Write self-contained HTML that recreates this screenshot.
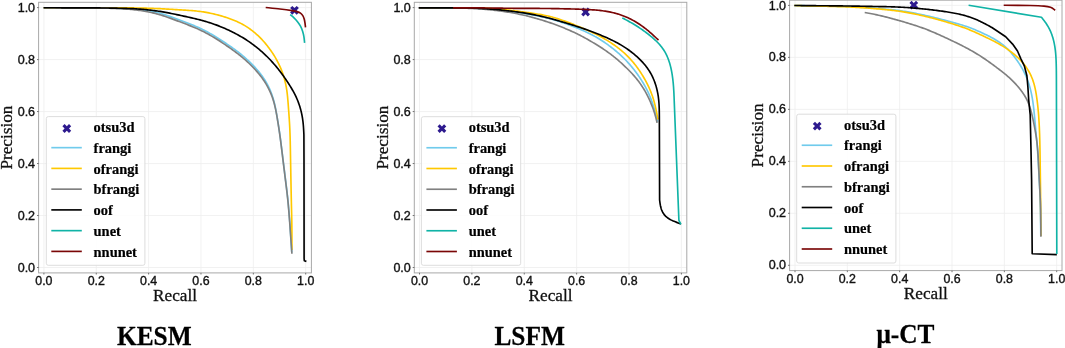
<!DOCTYPE html>
<html><head><meta charset="utf-8"><title>PR curves</title>
<style>html,body{margin:0;padding:0;background:#fff;overflow:hidden;} svg{display:block;will-change:transform;}
</style></head>
<body>
<svg width="1065" height="348" viewBox="0 0 1065 348">
<rect x="0" y="0" width="1065" height="348" fill="#fff"/>
<path d="M43.90,2.30V272.90M38.60,267.50H311.40M96.26,2.30V272.90M38.60,215.52H311.40M148.62,2.30V272.90M38.60,163.54H311.40M200.98,2.30V272.90M38.60,111.56H311.40M253.34,2.30V272.90M38.60,59.58H311.40M305.70,2.30V272.90M38.60,7.60H311.40" stroke="#eeeeee" stroke-width="0.8" fill="none"/>
<path d="M292.30,5.90 L294.50,8.10 L296.70,5.90 L298.90,8.10 L296.70,10.30 L298.90,12.50 L296.70,14.70 L294.50,12.50 L292.30,14.70 L290.10,12.50 L292.30,10.30 L290.10,8.10 Z" fill="#2d1a8e"/>
<g fill="none" stroke-width="1.65" stroke-linejoin="round" stroke-linecap="butt">
<path d="M43.60,7.75 L45.00,7.75 L46.41,7.76 L47.81,7.76 L49.22,7.77 L50.62,7.77 L52.03,7.77 L53.43,7.78 L54.83,7.78 L56.24,7.78 L57.64,7.79 L59.05,7.79 L60.45,7.80 L61.86,7.80 L63.26,7.80 L64.66,7.81 L66.07,7.81 L67.47,7.81 L68.88,7.82 L70.28,7.82 L71.69,7.82 L73.09,7.83 L74.49,7.83 L75.90,7.83 L77.30,7.83 L78.71,7.84 L80.11,7.84 L81.52,7.84 L82.92,7.85 L84.33,7.85 L85.73,7.85 L87.13,7.86 L88.54,7.86 L89.94,7.87 L91.35,7.87 L92.75,7.88 L94.16,7.89 L95.56,7.90 L96.96,7.91 L98.37,7.92 L99.77,7.93 L101.18,7.95 L102.58,7.97 L103.98,7.99 L105.39,8.01 L106.79,8.04 L108.20,8.07 L109.60,8.09 L111.01,8.12 L112.41,8.16 L113.81,8.19 L115.22,8.22 L116.62,8.26 L118.03,8.30 L119.43,8.34 L120.83,8.38 L122.24,8.43 L123.64,8.47 L125.05,8.53 L126.45,8.58 L127.85,8.64 L129.25,8.71 L130.66,8.79 L132.06,8.88 L133.46,8.97 L134.86,9.08 L136.26,9.20 L137.65,9.33 L139.05,9.47 L140.45,9.62 L141.84,9.79 L143.23,9.97 L144.62,10.16 L146.01,10.36 L147.40,10.57 L148.78,10.80 L150.16,11.04 L151.54,11.29 L152.92,11.57 L154.29,11.85 L155.65,12.16 L157.02,12.48 L158.37,12.82 L159.73,13.18 L161.08,13.56 L162.42,13.96 L163.76,14.37 L165.09,14.80 L166.42,15.24 L167.75,15.69 L169.08,16.15 L170.40,16.62 L171.72,17.10 L173.04,17.58 L174.36,18.06 L175.68,18.55 L176.99,19.04 L178.31,19.53 L179.63,20.03 L180.94,20.52 L182.26,21.02 L183.57,21.51 L184.89,22.01 L186.20,22.52 L187.51,23.02 L188.82,23.53 L190.13,24.04 L191.43,24.56 L192.74,25.08 L194.03,25.62 L195.33,26.16 L196.62,26.71 L197.90,27.28 L199.18,27.85 L200.46,28.44 L201.72,29.04 L202.98,29.65 L204.24,30.28 L205.49,30.91 L206.73,31.57 L207.96,32.23 L209.19,32.91 L210.41,33.60 L211.62,34.30 L212.83,35.01 L214.04,35.74 L215.24,36.47 L216.43,37.20 L217.62,37.95 L218.81,38.70 L219.99,39.45 L221.17,40.22 L222.35,40.98 L223.53,41.76 L224.70,42.53 L225.87,43.31 L227.03,44.10 L228.19,44.89 L229.35,45.68 L230.51,46.48 L231.66,47.29 L232.80,48.10 L233.94,48.92 L235.08,49.74 L236.21,50.58 L237.33,51.42 L238.45,52.27 L239.55,53.14 L240.65,54.01 L241.74,54.89 L242.82,55.79 L243.89,56.70 L244.95,57.62 L246.00,58.55 L247.04,59.49 L248.07,60.44 L249.10,61.40 L250.11,62.38 L251.11,63.36 L252.11,64.35 L253.09,65.36 L254.06,66.38 L255.02,67.40 L255.96,68.44 L256.89,69.49 L257.81,70.56 L258.71,71.63 L259.60,72.72 L260.47,73.82 L261.32,74.94 L262.15,76.07 L262.96,77.21 L263.75,78.37 L264.52,79.54 L265.27,80.72 L265.99,81.92 L266.68,83.14 L267.36,84.36 L268.01,85.61 L268.63,86.86 L269.23,88.12 L269.81,89.40 L270.36,90.69 L270.89,91.98 L271.39,93.29 L271.87,94.60 L272.33,95.93 L272.76,97.26 L273.17,98.60 L273.56,99.95 L273.93,101.30 L274.28,102.66 L274.61,104.02 L274.92,105.39 L275.22,106.76 L275.51,108.14 L275.78,109.52 L276.04,110.90 L276.30,112.28 L276.55,113.66 L276.79,115.05 L277.03,116.43 L277.26,117.82 L277.49,119.21 L277.72,120.60 L277.94,121.98 L278.17,123.37 L278.39,124.76 L278.60,126.15 L278.82,127.54 L279.03,128.92 L279.24,130.31 L279.44,131.70 L279.65,133.09 L279.85,134.48 L280.04,135.87 L280.23,137.26 L280.42,138.65 L280.61,140.05 L280.79,141.44 L280.97,142.83 L281.14,144.22 L281.32,145.62 L281.49,147.01 L281.67,148.40 L281.84,149.80 L282.01,151.19 L282.18,152.59 L282.35,153.98 L282.52,155.37 L282.69,156.77 L282.86,158.16 L283.03,159.56 L283.20,160.95 L283.37,162.34 L283.54,163.74 L283.71,165.13 L283.88,166.53 L284.05,167.92 L284.23,169.31 L284.40,170.71 L284.57,172.10 L284.74,173.49 L284.92,174.89 L285.09,176.28 L285.26,177.68 L285.44,179.07 L285.61,180.46 L285.78,181.86 L285.96,183.25 L286.13,184.64 L286.30,186.04 L286.47,187.43 L286.64,188.83 L286.81,190.22 L286.97,191.61 L287.14,193.01 L287.30,194.40 L287.45,195.80 L287.61,197.19 L287.76,198.59 L287.90,199.99 L288.04,201.38 L288.18,202.78 L288.31,204.18 L288.44,205.58 L288.56,206.98 L288.68,208.37 L288.80,209.77 L288.92,211.17 L289.03,212.57 L289.14,213.97 L289.25,215.37 L289.36,216.77 L289.47,218.17 L289.58,219.57 L289.68,220.97 L289.79,222.37 L289.89,223.78 L289.99,225.18 L290.09,226.58 L290.19,227.98 L290.28,229.38 L290.38,230.78 L290.47,232.18 L290.57,233.58 L290.66,234.98 L290.75,236.38 L290.84,237.79 L290.94,239.19 L291.03,240.59 L291.12,241.99 L291.21,243.39 L291.30,244.79 L291.39,246.19 L291.48,247.60 L291.57,249.00 L291.66,250.40 L291.75,251.80 L291.80,252.50" stroke="#70cbec"/>
<path d="M43.60,7.75 L45.00,7.75 L46.41,7.75 L47.81,7.75 L49.21,7.75 L50.62,7.76 L52.02,7.76 L53.42,7.76 L54.82,7.76 L56.23,7.76 L57.63,7.76 L59.03,7.76 L60.44,7.76 L61.84,7.77 L63.24,7.77 L64.65,7.77 L66.05,7.77 L67.45,7.77 L68.86,7.77 L70.26,7.77 L71.66,7.77 L73.07,7.78 L74.47,7.78 L75.87,7.78 L77.27,7.78 L78.68,7.78 L80.08,7.78 L81.48,7.78 L82.89,7.78 L84.29,7.79 L85.69,7.79 L87.10,7.79 L88.50,7.79 L89.90,7.79 L91.31,7.79 L92.71,7.79 L94.11,7.80 L95.52,7.80 L96.92,7.80 L98.32,7.80 L99.72,7.80 L101.13,7.81 L102.53,7.81 L103.93,7.81 L105.34,7.81 L106.74,7.82 L108.14,7.82 L109.55,7.82 L110.95,7.82 L112.35,7.83 L113.76,7.83 L115.16,7.83 L116.56,7.84 L117.96,7.84 L119.37,7.84 L120.77,7.85 L122.17,7.85 L123.58,7.86 L124.98,7.86 L126.38,7.87 L127.79,7.88 L129.19,7.89 L130.59,7.90 L132.00,7.91 L133.40,7.93 L134.80,7.95 L136.20,7.97 L137.61,7.99 L139.01,8.02 L140.41,8.05 L141.82,8.08 L143.22,8.11 L144.62,8.15 L146.02,8.18 L147.43,8.22 L148.83,8.26 L150.23,8.31 L151.63,8.35 L153.04,8.40 L154.44,8.45 L155.84,8.50 L157.24,8.56 L158.64,8.62 L160.04,8.69 L161.45,8.75 L162.85,8.82 L164.25,8.90 L165.65,8.98 L167.05,9.06 L168.45,9.14 L169.85,9.22 L171.25,9.30 L172.65,9.39 L174.05,9.47 L175.45,9.56 L176.86,9.64 L178.26,9.73 L179.66,9.82 L181.06,9.90 L182.46,9.99 L183.86,10.08 L185.26,10.17 L186.66,10.26 L188.06,10.35 L189.46,10.45 L190.86,10.55 L192.26,10.67 L193.66,10.78 L195.05,10.91 L196.45,11.05 L197.84,11.20 L199.23,11.36 L200.62,11.54 L202.01,11.73 L203.39,11.94 L204.78,12.16 L206.16,12.40 L207.54,12.65 L208.91,12.91 L210.29,13.19 L211.66,13.48 L213.03,13.78 L214.39,14.10 L215.75,14.43 L217.11,14.78 L218.47,15.14 L219.82,15.52 L221.17,15.91 L222.51,16.31 L223.85,16.73 L225.19,17.15 L226.52,17.59 L227.86,18.04 L229.18,18.50 L230.50,18.98 L231.82,19.46 L233.13,19.97 L234.43,20.48 L235.72,21.02 L237.01,21.57 L238.28,22.15 L239.54,22.75 L240.79,23.37 L242.03,24.02 L243.25,24.69 L244.46,25.39 L245.65,26.11 L246.84,26.85 L248.00,27.62 L249.15,28.41 L250.29,29.23 L251.41,30.06 L252.52,30.92 L253.61,31.79 L254.69,32.69 L255.75,33.60 L256.80,34.53 L257.83,35.48 L258.85,36.44 L259.85,37.42 L260.84,38.42 L261.80,39.43 L262.76,40.46 L263.69,41.50 L264.61,42.56 L265.52,43.63 L266.40,44.72 L267.28,45.81 L268.14,46.92 L268.99,48.04 L269.82,49.17 L270.64,50.31 L271.45,51.46 L272.24,52.62 L273.01,53.79 L273.77,54.97 L274.52,56.16 L275.24,57.36 L275.95,58.57 L276.63,59.79 L277.30,61.03 L277.94,62.27 L278.57,63.52 L279.18,64.79 L279.76,66.06 L280.33,67.34 L280.88,68.63 L281.40,69.93 L281.91,71.24 L282.39,72.55 L282.86,73.88 L283.30,75.21 L283.72,76.54 L284.12,77.88 L284.50,79.23 L284.86,80.59 L285.19,81.95 L285.51,83.31 L285.80,84.68 L286.08,86.05 L286.33,87.43 L286.56,88.81 L286.77,90.19 L286.97,91.58 L287.14,92.97 L287.31,94.36 L287.46,95.76 L287.60,97.16 L287.73,98.55 L287.85,99.95 L287.97,101.35 L288.08,102.75 L288.19,104.15 L288.29,105.55 L288.40,106.95 L288.50,108.35 L288.60,109.75 L288.70,111.15 L288.81,112.55 L288.91,113.95 L289.01,115.35 L289.10,116.75 L289.20,118.15 L289.29,119.55 L289.38,120.95 L289.47,122.35 L289.55,123.75 L289.63,125.15 L289.70,126.55 L289.77,127.96 L289.84,129.36 L289.90,130.76 L289.95,132.16 L290.01,133.56 L290.05,134.96 L290.10,136.37 L290.14,137.77 L290.17,139.17 L290.21,140.57 L290.24,141.98 L290.27,143.38 L290.30,144.78 L290.33,146.19 L290.35,147.59 L290.38,148.99 L290.40,150.39 L290.43,151.80 L290.45,153.20 L290.47,154.60 L290.50,156.01 L290.52,157.41 L290.55,158.81 L290.57,160.21 L290.60,161.62 L290.62,163.02 L290.65,164.42 L290.67,165.83 L290.70,167.23 L290.72,168.63 L290.75,170.03 L290.77,171.44 L290.80,172.84 L290.82,174.24 L290.85,175.65 L290.87,177.05 L290.90,178.45 L290.92,179.86 L290.95,181.26 L290.98,182.66 L291.00,184.06 L291.03,185.47 L291.05,186.87 L291.08,188.27 L291.11,189.68 L291.13,191.08 L291.16,192.48 L291.19,193.88 L291.22,195.29 L291.25,196.69 L291.28,198.09 L291.31,199.49 L291.34,200.90 L291.37,202.30 L291.40,203.70 L291.43,205.11 L291.47,206.51 L291.50,207.91 L291.53,209.31 L291.57,210.72 L291.60,212.12 L291.63,213.52 L291.66,214.93 L291.69,216.33 L291.72,217.73 L291.75,219.13 L291.78,220.54 L291.80,221.94 L291.82,223.34 L291.84,224.74 L291.86,226.15 L291.87,227.55 L291.88,228.95 L291.89,230.36 L291.90,231.76 L291.90,233.16 L291.91,234.57 L291.91,235.97 L291.91,237.37 L291.91,238.77 L291.91,240.18 L291.91,241.58 L291.91,242.98 L291.91,244.39 L291.91,245.79 L291.90,247.19 L291.90,248.60 L291.90,250.00" stroke="#ffc800"/>
<path d="M43.60,7.75 L45.00,7.76 L46.41,7.76 L47.81,7.77 L49.21,7.78 L50.62,7.78 L52.02,7.79 L53.42,7.79 L54.83,7.80 L56.23,7.81 L57.63,7.81 L59.03,7.82 L60.44,7.83 L61.84,7.83 L63.24,7.84 L64.65,7.84 L66.05,7.85 L67.45,7.85 L68.86,7.86 L70.26,7.87 L71.66,7.87 L73.07,7.88 L74.47,7.88 L75.87,7.89 L77.28,7.89 L78.68,7.90 L80.08,7.90 L81.49,7.91 L82.89,7.91 L84.29,7.92 L85.69,7.92 L87.10,7.93 L88.50,7.93 L89.90,7.94 L91.31,7.95 L92.71,7.96 L94.11,7.97 L95.52,7.99 L96.92,8.00 L98.32,8.02 L99.73,8.05 L101.13,8.07 L102.53,8.10 L103.93,8.14 L105.34,8.17 L106.74,8.21 L108.14,8.26 L109.54,8.30 L110.95,8.35 L112.35,8.41 L113.75,8.46 L115.15,8.52 L116.56,8.58 L117.96,8.64 L119.36,8.71 L120.76,8.78 L122.16,8.85 L123.56,8.93 L124.97,9.01 L126.37,9.10 L127.76,9.20 L129.16,9.30 L130.56,9.41 L131.96,9.54 L133.35,9.67 L134.75,9.82 L136.14,9.98 L137.53,10.15 L138.92,10.34 L140.31,10.54 L141.69,10.75 L143.08,10.97 L144.46,11.20 L145.84,11.45 L147.22,11.70 L148.60,11.97 L149.97,12.25 L151.34,12.54 L152.71,12.85 L154.07,13.17 L155.43,13.50 L156.79,13.85 L158.14,14.22 L159.48,14.60 L160.83,15.00 L162.16,15.41 L163.50,15.84 L164.82,16.28 L166.15,16.74 L167.47,17.20 L168.79,17.67 L170.11,18.15 L171.43,18.64 L172.74,19.13 L174.06,19.62 L175.37,20.11 L176.68,20.61 L178.00,21.11 L179.31,21.60 L180.62,22.10 L181.94,22.60 L183.25,23.10 L184.56,23.60 L185.87,24.10 L187.18,24.60 L188.49,25.11 L189.80,25.62 L191.10,26.14 L192.40,26.67 L193.70,27.20 L194.99,27.74 L196.28,28.30 L197.56,28.86 L198.84,29.44 L200.11,30.03 L201.38,30.63 L202.64,31.24 L203.89,31.86 L205.14,32.50 L206.38,33.16 L207.61,33.82 L208.84,34.50 L210.06,35.19 L211.27,35.89 L212.48,36.60 L213.68,37.32 L214.88,38.05 L216.07,38.79 L217.26,39.54 L218.45,40.29 L219.63,41.05 L220.80,41.81 L221.98,42.58 L223.15,43.36 L224.32,44.14 L225.48,44.92 L226.64,45.71 L227.80,46.51 L228.96,47.30 L230.11,48.11 L231.25,48.92 L232.40,49.73 L233.53,50.55 L234.67,51.38 L235.79,52.22 L236.91,53.06 L238.03,53.91 L239.13,54.78 L240.23,55.65 L241.32,56.53 L242.40,57.43 L243.47,58.33 L244.53,59.25 L245.58,60.18 L246.62,61.12 L247.65,62.06 L248.68,63.02 L249.69,63.99 L250.70,64.97 L251.69,65.97 L252.67,66.97 L253.65,67.98 L254.61,69.00 L255.56,70.04 L256.49,71.09 L257.41,72.14 L258.32,73.21 L259.21,74.30 L260.09,75.39 L260.95,76.50 L261.80,77.62 L262.62,78.75 L263.43,79.90 L264.21,81.06 L264.97,82.23 L265.71,83.42 L266.43,84.62 L267.13,85.84 L267.80,87.06 L268.45,88.30 L269.07,89.56 L269.67,90.82 L270.25,92.09 L270.80,93.38 L271.33,94.67 L271.83,95.98 L272.31,97.29 L272.77,98.62 L273.20,99.95 L273.60,101.29 L273.99,102.63 L274.35,103.99 L274.69,105.34 L275.02,106.71 L275.33,108.08 L275.62,109.45 L275.90,110.83 L276.17,112.20 L276.43,113.58 L276.68,114.97 L276.92,116.35 L277.16,117.73 L277.39,119.12 L277.62,120.51 L277.85,121.89 L278.07,123.28 L278.29,124.67 L278.50,126.06 L278.72,127.44 L278.93,128.83 L279.13,130.22 L279.34,131.61 L279.54,133.00 L279.74,134.39 L279.93,135.78 L280.12,137.17 L280.31,138.56 L280.49,139.95 L280.68,141.34 L280.85,142.73 L281.03,144.12 L281.21,145.51 L281.38,146.91 L281.55,148.30 L281.72,149.69 L281.89,151.08 L282.07,152.48 L282.24,153.87 L282.41,155.26 L282.58,156.65 L282.74,158.05 L282.91,159.44 L283.09,160.83 L283.26,162.23 L283.43,163.62 L283.60,165.01 L283.77,166.40 L283.94,167.80 L284.11,169.19 L284.28,170.58 L284.46,171.97 L284.63,173.37 L284.80,174.76 L284.97,176.15 L285.15,177.54 L285.32,178.94 L285.49,180.33 L285.67,181.72 L285.84,183.11 L286.01,184.51 L286.18,185.90 L286.36,187.29 L286.52,188.69 L286.69,190.08 L286.86,191.47 L287.02,192.87 L287.18,194.26 L287.34,195.65 L287.49,197.05 L287.64,198.44 L287.79,199.84 L287.93,201.23 L288.06,202.63 L288.19,204.03 L288.32,205.42 L288.45,206.82 L288.57,208.22 L288.69,209.62 L288.80,211.02 L288.92,212.41 L289.03,213.81 L289.14,215.21 L289.25,216.61 L289.36,218.01 L289.47,219.41 L289.57,220.81 L289.68,222.21 L289.78,223.61 L289.89,225.01 L289.99,226.40 L290.09,227.80 L290.19,229.20 L290.29,230.60 L290.39,232.00 L290.49,233.40 L290.59,234.80 L290.69,236.20 L290.78,237.60 L290.88,239.00 L290.98,240.40 L291.07,241.80 L291.17,243.20 L291.27,244.60 L291.37,246.00 L291.46,247.40 L291.56,248.80 L291.66,250.20 L291.75,251.60 L291.85,253.00 L291.90,253.70" stroke="#808080"/>
<path d="M43.60,7.75 L45.01,7.75 L46.41,7.76 L47.82,7.76 L49.22,7.77 L50.63,7.77 L52.03,7.77 L53.44,7.78 L54.84,7.78 L56.25,7.78 L57.66,7.79 L59.06,7.79 L60.47,7.80 L61.87,7.80 L63.28,7.80 L64.68,7.81 L66.09,7.81 L67.50,7.81 L68.90,7.82 L70.31,7.82 L71.71,7.82 L73.12,7.83 L74.52,7.83 L75.93,7.83 L77.33,7.84 L78.74,7.84 L80.15,7.84 L81.55,7.84 L82.96,7.85 L84.36,7.85 L85.77,7.86 L87.17,7.86 L88.58,7.86 L89.99,7.87 L91.39,7.88 L92.80,7.88 L94.20,7.89 L95.61,7.90 L97.01,7.91 L98.42,7.92 L99.82,7.94 L101.23,7.95 L102.64,7.97 L104.04,7.99 L105.45,8.01 L106.85,8.03 L108.26,8.05 L109.66,8.07 L111.07,8.09 L112.47,8.12 L113.88,8.14 L115.28,8.17 L116.69,8.19 L118.10,8.22 L119.50,8.24 L120.91,8.27 L122.31,8.30 L123.72,8.34 L125.12,8.37 L126.53,8.41 L127.93,8.46 L129.34,8.50 L130.74,8.56 L132.14,8.62 L133.55,8.69 L134.95,8.77 L136.35,8.86 L137.75,8.95 L139.15,9.06 L140.55,9.17 L141.95,9.29 L143.35,9.41 L144.75,9.54 L146.15,9.68 L147.55,9.82 L148.95,9.97 L150.34,10.13 L151.74,10.29 L153.13,10.46 L154.53,10.63 L155.92,10.82 L157.31,11.01 L158.70,11.22 L160.09,11.43 L161.47,11.66 L162.86,11.89 L164.24,12.13 L165.62,12.38 L167.00,12.64 L168.38,12.91 L169.76,13.18 L171.14,13.46 L172.52,13.74 L173.89,14.02 L175.27,14.31 L176.65,14.60 L178.02,14.89 L179.40,15.18 L180.77,15.48 L182.15,15.77 L183.52,16.07 L184.90,16.37 L186.27,16.67 L187.64,16.97 L189.02,17.27 L190.39,17.58 L191.76,17.89 L193.13,18.21 L194.50,18.53 L195.86,18.86 L197.23,19.19 L198.59,19.53 L199.95,19.88 L201.31,20.24 L202.67,20.61 L204.02,20.99 L205.37,21.37 L206.72,21.77 L208.06,22.18 L209.40,22.60 L210.74,23.04 L212.07,23.48 L213.40,23.94 L214.72,24.41 L216.04,24.89 L217.36,25.39 L218.67,25.89 L219.97,26.41 L221.27,26.94 L222.57,27.49 L223.86,28.04 L225.15,28.60 L226.43,29.17 L227.71,29.76 L228.99,30.35 L230.26,30.96 L231.52,31.57 L232.78,32.19 L234.04,32.83 L235.28,33.47 L236.53,34.13 L237.76,34.79 L238.99,35.47 L240.22,36.16 L241.43,36.87 L242.64,37.58 L243.84,38.31 L245.03,39.06 L246.22,39.81 L247.39,40.58 L248.56,41.36 L249.72,42.16 L250.87,42.96 L252.00,43.79 L253.13,44.62 L254.25,45.47 L255.36,46.33 L256.46,47.20 L257.56,48.08 L258.64,48.98 L259.72,49.88 L260.78,50.80 L261.84,51.72 L262.88,52.66 L263.92,53.61 L264.95,54.57 L265.96,55.54 L266.97,56.52 L267.96,57.51 L268.95,58.51 L269.92,59.53 L270.88,60.55 L271.84,61.58 L272.78,62.63 L273.71,63.68 L274.63,64.74 L275.54,65.81 L276.45,66.88 L277.34,67.97 L278.22,69.06 L279.09,70.17 L279.95,71.28 L280.81,72.40 L281.65,73.52 L282.48,74.65 L283.30,75.79 L284.12,76.94 L284.92,78.10 L285.72,79.26 L286.51,80.42 L287.28,81.59 L288.06,82.77 L288.82,83.96 L289.57,85.14 L290.31,86.34 L291.05,87.54 L291.76,88.75 L292.47,89.96 L293.16,91.19 L293.84,92.42 L294.49,93.66 L295.13,94.91 L295.74,96.17 L296.33,97.44 L296.90,98.72 L297.44,100.01 L297.97,101.31 L298.46,102.62 L298.94,103.93 L299.39,105.26 L299.82,106.59 L300.22,107.94 L300.60,109.29 L300.95,110.64 L301.29,112.00 L301.59,113.37 L301.88,114.75 L302.14,116.12 L302.38,117.51 L302.60,118.89 L302.79,120.28 L302.97,121.67 L303.13,123.07 L303.26,124.47 L303.39,125.87 L303.49,127.27 L303.58,128.67 L303.67,130.08 L303.74,131.48 L303.81,132.89 L303.87,134.30 L303.90,135.00 L304.00,160.00 L304.10,258.50 L304.30,260.80 L306.40,261.40" stroke="#000000"/>
<path d="M290.20,14.60 C290.83,15.13 292.78,16.62 294.00,17.80 C295.22,18.98 296.42,20.30 297.50,21.70 C298.58,23.10 299.65,24.62 300.50,26.20 C301.35,27.78 302.03,29.47 302.60,31.20 C303.17,32.93 303.57,34.67 303.90,36.60 C304.23,38.53 304.48,41.77 304.60,42.80" stroke="#10b3a6"/>
<path d="M265.70,7.50 C268.08,7.75 275.62,8.48 280.00,9.00 C284.38,9.52 289.17,10.17 292.00,10.60 C294.83,11.03 295.58,11.18 297.00,11.60 C298.42,12.02 299.53,12.43 300.50,13.10 C301.47,13.77 302.18,14.62 302.80,15.60 C303.42,16.58 303.83,17.77 304.20,19.00 C304.57,20.23 304.78,21.62 305.00,23.00 C305.22,24.38 305.42,26.58 305.50,27.30" stroke="#7a0606"/>
</g>
<rect x="38.60" y="2.30" width="272.80" height="270.60" fill="none" stroke="#a8a8a8" stroke-width="1"/>
<path d="M43.90,272.90v1.6M38.60,267.50h-1.6M96.26,272.90v1.6M38.60,215.52h-1.6M148.62,272.90v1.6M38.60,163.54h-1.6M200.98,272.90v1.6M38.60,111.56h-1.6M253.34,272.90v1.6M38.60,59.58h-1.6M305.70,272.90v1.6M38.60,7.60h-1.6" stroke="#555" stroke-width="0.8" fill="none"/>
<g font-family="'Liberation Sans', sans-serif" font-size="11.9" fill="#111" stroke="#111" stroke-width="0.35">
<text x="43.90" y="285.10" text-anchor="middle" textLength="17.2" lengthAdjust="spacingAndGlyphs">0.0</text>
<text x="17.70" y="271.60" textLength="17.4" lengthAdjust="spacingAndGlyphs">0.0</text>
<text x="96.26" y="285.10" text-anchor="middle" textLength="17.2" lengthAdjust="spacingAndGlyphs">0.2</text>
<text x="17.70" y="219.62" textLength="17.4" lengthAdjust="spacingAndGlyphs">0.2</text>
<text x="148.62" y="285.10" text-anchor="middle" textLength="17.2" lengthAdjust="spacingAndGlyphs">0.4</text>
<text x="17.70" y="167.64" textLength="17.4" lengthAdjust="spacingAndGlyphs">0.4</text>
<text x="200.98" y="285.10" text-anchor="middle" textLength="17.2" lengthAdjust="spacingAndGlyphs">0.6</text>
<text x="17.70" y="115.66" textLength="17.4" lengthAdjust="spacingAndGlyphs">0.6</text>
<text x="253.34" y="285.10" text-anchor="middle" textLength="17.2" lengthAdjust="spacingAndGlyphs">0.8</text>
<text x="17.70" y="63.68" textLength="17.4" lengthAdjust="spacingAndGlyphs">0.8</text>
<text x="305.70" y="285.10" text-anchor="middle" textLength="17.2" lengthAdjust="spacingAndGlyphs">1.0</text>
<text x="17.70" y="11.70" textLength="17.4" lengthAdjust="spacingAndGlyphs">1.0</text>
</g>
<text x="175.00" y="301.40" text-anchor="middle" font-family="'Liberation Serif', serif" font-size="17.2" fill="#111" stroke="#111" stroke-width="0.3">Recall</text>
<text transform="translate(12.00,137.60) rotate(-90)" x="0" y="0" text-anchor="middle" font-family="'Liberation Serif', serif" font-size="17.2" fill="#111" stroke="#111" stroke-width="0.3">Precision</text>
<rect x="46.30" y="116.60" width="98.60" height="148.70" rx="2" ry="2" fill="#fff" fill-opacity="0.85" stroke="#d9d9d9" stroke-width="0.9"/>
<path d="M64.60,124.10 L66.80,126.30 L69.00,124.10 L71.20,126.30 L69.00,128.50 L71.20,130.70 L69.00,132.90 L66.80,130.70 L64.60,132.90 L62.40,130.70 L64.60,128.50 L62.40,126.30 Z" fill="#2d1a8e"/>
<text x="93.60" y="132.10" font-family="'Liberation Serif', serif" font-weight="bold" font-size="14.45" fill="#000" stroke="#000" stroke-width="0.2">otsu3d</text>
<path d="M51.30,147.65H81.80" stroke="#70cbec" stroke-width="1.65"/>
<text x="93.60" y="152.85" font-family="'Liberation Serif', serif" font-weight="bold" font-size="14.45" fill="#000" stroke="#000" stroke-width="0.2">frangi</text>
<path d="M51.30,168.40H81.80" stroke="#ffc800" stroke-width="1.65"/>
<text x="93.60" y="173.60" font-family="'Liberation Serif', serif" font-weight="bold" font-size="14.45" fill="#000" stroke="#000" stroke-width="0.2">ofrangi</text>
<path d="M51.30,189.15H81.80" stroke="#808080" stroke-width="1.65"/>
<text x="93.60" y="194.35" font-family="'Liberation Serif', serif" font-weight="bold" font-size="14.45" fill="#000" stroke="#000" stroke-width="0.2">bfrangi</text>
<path d="M51.30,209.90H81.80" stroke="#000000" stroke-width="1.65"/>
<text x="93.60" y="215.10" font-family="'Liberation Serif', serif" font-weight="bold" font-size="14.45" fill="#000" stroke="#000" stroke-width="0.2">oof</text>
<path d="M51.30,230.65H81.80" stroke="#10b3a6" stroke-width="1.65"/>
<text x="93.60" y="235.85" font-family="'Liberation Serif', serif" font-weight="bold" font-size="14.45" fill="#000" stroke="#000" stroke-width="0.2">unet</text>
<path d="M51.30,251.40H81.80" stroke="#7a0606" stroke-width="1.65"/>
<text x="93.60" y="256.60" font-family="'Liberation Serif', serif" font-weight="bold" font-size="14.45" fill="#000" stroke="#000" stroke-width="0.2">nnunet</text>
<path d="M419.50,2.30V272.90M414.30,267.50H686.80M471.88,2.30V272.90M414.30,215.52H686.80M524.26,2.30V272.90M414.30,163.54H686.80M576.64,2.30V272.90M414.30,111.56H686.80M629.02,2.30V272.90M414.30,59.58H686.80M681.40,2.30V272.90M414.30,7.60H686.80" stroke="#eeeeee" stroke-width="0.8" fill="none"/>
<path d="M583.40,7.60 L585.60,9.80 L587.80,7.60 L590.00,9.80 L587.80,12.00 L590.00,14.20 L587.80,16.40 L585.60,14.20 L583.40,16.40 L581.20,14.20 L583.40,12.00 L581.20,9.80 Z" fill="#2d1a8e"/>
<g fill="none" stroke-width="1.65" stroke-linejoin="round" stroke-linecap="butt">
<path d="M419.30,7.80 L420.71,7.80 L422.11,7.80 L423.52,7.80 L424.92,7.80 L426.33,7.80 L427.73,7.80 L429.14,7.80 L430.54,7.80 L431.95,7.80 L433.35,7.80 L434.76,7.80 L436.16,7.80 L437.57,7.80 L438.97,7.80 L440.38,7.80 L441.78,7.80 L443.19,7.80 L444.59,7.80 L446.00,7.80 L447.40,7.81 L448.81,7.81 L450.21,7.81 L451.62,7.82 L453.02,7.83 L454.43,7.83 L455.84,7.84 L457.24,7.86 L458.65,7.87 L460.05,7.89 L461.46,7.91 L462.86,7.93 L464.27,7.96 L465.67,7.99 L467.07,8.02 L468.48,8.05 L469.88,8.09 L471.29,8.14 L472.69,8.18 L474.10,8.23 L475.50,8.29 L476.90,8.35 L478.31,8.41 L479.71,8.48 L481.11,8.56 L482.52,8.64 L483.92,8.73 L485.32,8.82 L486.72,8.92 L488.12,9.02 L489.52,9.13 L490.92,9.24 L492.32,9.36 L493.72,9.48 L495.12,9.60 L496.52,9.74 L497.92,9.87 L499.32,10.02 L500.72,10.16 L502.11,10.32 L503.51,10.47 L504.90,10.63 L506.30,10.80 L507.69,10.97 L509.09,11.15 L510.48,11.33 L511.88,11.51 L513.27,11.69 L514.66,11.88 L516.05,12.08 L517.44,12.27 L518.83,12.48 L520.22,12.69 L521.61,12.90 L523.00,13.12 L524.38,13.35 L525.77,13.59 L527.15,13.83 L528.53,14.08 L529.92,14.34 L531.30,14.60 L532.67,14.87 L534.05,15.15 L535.43,15.43 L536.81,15.71 L538.18,16.00 L539.55,16.30 L540.93,16.60 L542.30,16.91 L543.67,17.22 L545.03,17.54 L546.40,17.87 L547.76,18.21 L549.12,18.55 L550.48,18.91 L551.83,19.28 L553.19,19.66 L554.53,20.05 L555.88,20.45 L557.22,20.87 L558.56,21.29 L559.90,21.72 L561.23,22.16 L562.57,22.61 L563.89,23.06 L565.22,23.52 L566.55,23.99 L567.87,24.47 L569.19,24.95 L570.51,25.44 L571.82,25.93 L573.14,26.43 L574.45,26.94 L575.75,27.46 L577.06,27.98 L578.36,28.52 L579.65,29.06 L580.94,29.62 L582.23,30.18 L583.51,30.76 L584.78,31.34 L586.06,31.94 L587.32,32.55 L588.58,33.16 L589.84,33.79 L591.09,34.42 L592.34,35.07 L593.58,35.72 L594.81,36.39 L596.04,37.07 L597.26,37.77 L598.46,38.48 L599.66,39.21 L600.85,39.95 L602.03,40.71 L603.20,41.48 L604.36,42.27 L605.51,43.07 L606.66,43.88 L607.79,44.71 L608.92,45.54 L610.04,46.39 L611.16,47.24 L612.27,48.10 L613.37,48.97 L614.47,49.85 L615.55,50.75 L616.63,51.65 L617.70,52.56 L618.76,53.48 L619.81,54.41 L620.84,55.36 L621.87,56.32 L622.88,57.29 L623.88,58.28 L624.87,59.27 L625.85,60.28 L626.81,61.30 L627.77,62.33 L628.71,63.37 L629.64,64.42 L630.56,65.49 L631.46,66.56 L632.36,67.64 L633.24,68.73 L634.12,69.83 L634.98,70.94 L635.82,72.07 L636.66,73.20 L637.48,74.33 L638.29,75.48 L639.09,76.64 L639.87,77.81 L640.65,78.98 L641.40,80.16 L642.15,81.35 L642.88,82.55 L643.60,83.76 L644.30,84.98 L644.98,86.20 L645.65,87.43 L646.31,88.68 L646.95,89.93 L647.57,91.18 L648.17,92.45 L648.76,93.72 L649.33,95.01 L649.88,96.30 L650.41,97.59 L650.93,98.90 L651.43,100.21 L651.91,101.53 L652.38,102.85 L652.83,104.18 L653.27,105.51 L653.70,106.85 L654.11,108.19 L654.51,109.54 L654.89,110.89 L655.26,112.24 L655.62,113.60 L655.97,114.96 L656.31,116.33 L656.64,117.69 L656.96,119.06 L657.28,120.43 L657.60,121.80" stroke="#70cbec"/>
<path d="M419.30,7.80 L420.71,7.80 L422.11,7.80 L423.52,7.80 L424.92,7.80 L426.33,7.80 L427.73,7.80 L429.14,7.80 L430.54,7.80 L431.95,7.80 L433.35,7.80 L434.76,7.80 L436.16,7.80 L437.57,7.80 L438.97,7.80 L440.38,7.79 L441.78,7.79 L443.19,7.79 L444.59,7.79 L446.00,7.79 L447.40,7.79 L448.81,7.79 L450.21,7.79 L451.62,7.79 L453.03,7.80 L454.43,7.80 L455.84,7.80 L457.24,7.81 L458.65,7.82 L460.05,7.82 L461.46,7.83 L462.86,7.84 L464.27,7.86 L465.67,7.87 L467.08,7.89 L468.48,7.91 L469.89,7.93 L471.29,7.95 L472.70,7.97 L474.10,8.00 L475.51,8.03 L476.91,8.06 L478.32,8.10 L479.72,8.14 L481.13,8.19 L482.53,8.24 L483.93,8.29 L485.34,8.34 L486.74,8.41 L488.15,8.47 L489.55,8.54 L490.95,8.62 L492.35,8.70 L493.76,8.78 L495.16,8.87 L496.56,8.97 L497.96,9.08 L499.36,9.19 L500.76,9.31 L502.16,9.44 L503.56,9.57 L504.95,9.71 L506.35,9.85 L507.75,10.00 L509.14,10.16 L510.54,10.32 L511.94,10.48 L513.33,10.65 L514.73,10.82 L516.12,10.99 L517.52,11.16 L518.91,11.34 L520.30,11.52 L521.70,11.71 L523.09,11.89 L524.48,12.08 L525.88,12.28 L527.27,12.48 L528.66,12.68 L530.05,12.88 L531.44,13.09 L532.83,13.30 L534.22,13.52 L535.61,13.74 L536.99,13.97 L538.38,14.20 L539.77,14.43 L541.15,14.68 L542.53,14.93 L543.91,15.19 L545.28,15.47 L546.66,15.76 L548.02,16.06 L549.39,16.38 L550.75,16.71 L552.11,17.07 L553.46,17.43 L554.80,17.82 L556.15,18.22 L557.49,18.64 L558.82,19.07 L560.15,19.51 L561.48,19.97 L562.81,20.43 L564.13,20.90 L565.45,21.38 L566.77,21.87 L568.08,22.37 L569.40,22.87 L570.71,23.37 L572.02,23.88 L573.33,24.39 L574.64,24.91 L575.95,25.43 L577.25,25.95 L578.55,26.48 L579.85,27.02 L581.15,27.56 L582.45,28.10 L583.74,28.65 L585.03,29.21 L586.32,29.77 L587.61,30.33 L588.89,30.90 L590.17,31.48 L591.45,32.07 L592.72,32.66 L593.99,33.26 L595.26,33.87 L596.51,34.49 L597.77,35.13 L599.01,35.77 L600.25,36.43 L601.49,37.10 L602.71,37.79 L603.93,38.48 L605.14,39.19 L606.34,39.92 L607.54,40.65 L608.73,41.40 L609.91,42.16 L611.09,42.93 L612.26,43.71 L613.42,44.50 L614.57,45.30 L615.71,46.12 L616.85,46.95 L617.97,47.80 L619.08,48.65 L620.17,49.53 L621.26,50.42 L622.33,51.33 L623.38,52.25 L624.42,53.19 L625.45,54.14 L626.46,55.11 L627.46,56.10 L628.45,57.10 L629.42,58.11 L630.37,59.14 L631.31,60.18 L632.23,61.24 L633.14,62.31 L634.04,63.39 L634.92,64.49 L635.78,65.59 L636.63,66.71 L637.46,67.84 L638.28,68.98 L639.09,70.14 L639.88,71.30 L640.65,72.47 L641.41,73.65 L642.16,74.84 L642.89,76.04 L643.61,77.25 L644.32,78.46 L645.01,79.69 L645.68,80.92 L646.34,82.16 L646.99,83.41 L647.62,84.67 L648.23,85.93 L648.83,87.20 L649.41,88.48 L649.97,89.76 L650.51,91.06 L651.03,92.36 L651.53,93.67 L652.02,94.98 L652.48,96.30 L652.92,97.63 L653.34,98.97 L653.74,100.31 L654.12,101.66 L654.49,103.01 L654.83,104.37 L655.16,105.73 L655.48,107.10 L655.78,108.47 L656.08,109.85 L656.36,111.22 L656.64,112.60 L656.92,113.98 L657.19,115.36 L657.46,116.74 L657.73,118.12 L658.00,119.50" stroke="#ffc800"/>
<path d="M419.30,7.80 L420.71,7.80 L422.11,7.81 L423.52,7.81 L424.92,7.81 L426.33,7.81 L427.73,7.82 L429.14,7.82 L430.54,7.82 L431.95,7.83 L433.35,7.83 L434.76,7.83 L436.16,7.84 L437.57,7.84 L438.97,7.84 L440.38,7.85 L441.79,7.86 L443.19,7.86 L444.60,7.87 L446.00,7.88 L447.41,7.89 L448.81,7.90 L450.22,7.91 L451.62,7.92 L453.03,7.94 L454.43,7.96 L455.84,7.98 L457.24,8.01 L458.65,8.04 L460.05,8.07 L461.46,8.11 L462.86,8.15 L464.27,8.19 L465.67,8.24 L467.07,8.29 L468.48,8.35 L469.88,8.41 L471.29,8.47 L472.69,8.54 L474.09,8.62 L475.50,8.69 L476.90,8.78 L478.30,8.86 L479.70,8.95 L481.11,9.05 L482.51,9.16 L483.91,9.27 L485.31,9.38 L486.71,9.50 L488.11,9.63 L489.51,9.76 L490.91,9.89 L492.30,10.04 L493.70,10.18 L495.10,10.34 L496.49,10.50 L497.89,10.67 L499.28,10.85 L500.67,11.04 L502.06,11.23 L503.45,11.43 L504.84,11.64 L506.23,11.86 L507.62,12.08 L509.01,12.31 L510.39,12.54 L511.78,12.78 L513.16,13.03 L514.54,13.28 L515.92,13.54 L517.30,13.80 L518.68,14.07 L520.06,14.35 L521.43,14.64 L522.80,14.94 L524.17,15.25 L525.54,15.57 L526.90,15.90 L528.26,16.25 L529.62,16.60 L530.98,16.96 L532.33,17.33 L533.69,17.70 L535.04,18.09 L536.39,18.48 L537.74,18.87 L539.09,19.27 L540.43,19.67 L541.78,20.08 L543.12,20.49 L544.46,20.91 L545.80,21.34 L547.14,21.77 L548.47,22.21 L549.81,22.65 L551.14,23.10 L552.46,23.57 L553.79,24.04 L555.11,24.52 L556.42,25.00 L557.74,25.50 L559.05,26.00 L560.36,26.52 L561.66,27.04 L562.97,27.56 L564.27,28.10 L565.56,28.64 L566.86,29.19 L568.15,29.74 L569.43,30.31 L570.72,30.87 L572.00,31.45 L573.28,32.03 L574.55,32.62 L575.82,33.22 L577.09,33.83 L578.35,34.45 L579.60,35.08 L580.85,35.72 L582.09,36.37 L583.33,37.03 L584.56,37.70 L585.79,38.38 L587.02,39.07 L588.24,39.77 L589.46,40.47 L590.67,41.17 L591.88,41.89 L593.09,42.60 L594.30,43.33 L595.50,44.05 L596.70,44.79 L597.90,45.53 L599.09,46.27 L600.27,47.03 L601.45,47.79 L602.63,48.56 L603.80,49.34 L604.96,50.12 L606.12,50.92 L607.27,51.73 L608.41,52.55 L609.54,53.37 L610.67,54.21 L611.78,55.07 L612.89,55.93 L613.99,56.80 L615.08,57.69 L616.16,58.58 L617.24,59.48 L618.31,60.40 L619.37,61.32 L620.42,62.25 L621.47,63.19 L622.51,64.14 L623.54,65.09 L624.56,66.06 L625.58,67.03 L626.59,68.01 L627.59,68.99 L628.59,69.99 L629.57,70.99 L630.55,72.00 L631.52,73.02 L632.47,74.05 L633.41,75.09 L634.34,76.14 L635.26,77.20 L636.16,78.28 L637.04,79.37 L637.90,80.47 L638.75,81.59 L639.59,82.72 L640.40,83.86 L641.20,85.01 L641.98,86.17 L642.74,87.35 L643.49,88.54 L644.21,89.74 L644.92,90.95 L645.61,92.18 L646.28,93.41 L646.94,94.65 L647.58,95.90 L648.20,97.16 L648.81,98.43 L649.40,99.70 L649.98,100.98 L650.54,102.27 L651.09,103.56 L651.62,104.86 L652.14,106.16 L652.64,107.47 L653.13,108.79 L653.59,110.11 L654.04,111.43 L654.47,112.76 L654.87,114.10 L655.26,115.44 L655.63,116.79 L655.98,118.14 L656.31,119.50 L656.63,120.86 L656.94,122.22 L657.10,122.90" stroke="#808080"/>
<path d="M418.60,7.80 L420.01,7.80 L421.41,7.80 L422.82,7.80 L424.22,7.80 L425.63,7.80 L427.04,7.80 L428.44,7.80 L429.85,7.80 L431.25,7.80 L432.66,7.80 L434.07,7.80 L435.47,7.80 L436.88,7.80 L438.28,7.80 L439.69,7.80 L441.10,7.80 L442.50,7.80 L443.91,7.80 L445.31,7.80 L446.72,7.81 L448.13,7.81 L449.53,7.81 L450.94,7.81 L452.34,7.82 L453.75,7.82 L455.16,7.83 L456.56,7.83 L457.97,7.84 L459.37,7.85 L460.78,7.87 L462.19,7.88 L463.59,7.90 L465.00,7.92 L466.40,7.94 L467.81,7.97 L469.21,8.00 L470.62,8.04 L472.03,8.08 L473.43,8.12 L474.84,8.17 L476.24,8.22 L477.64,8.28 L479.05,8.35 L480.45,8.42 L481.86,8.50 L483.26,8.58 L484.66,8.66 L486.07,8.75 L487.47,8.85 L488.87,8.95 L490.27,9.06 L491.67,9.17 L493.07,9.29 L494.48,9.41 L495.88,9.53 L497.28,9.67 L498.68,9.80 L500.07,9.94 L501.47,10.08 L502.87,10.23 L504.27,10.38 L505.67,10.54 L507.06,10.70 L508.46,10.86 L509.86,11.02 L511.25,11.19 L512.65,11.36 L514.05,11.53 L515.44,11.71 L516.83,11.89 L518.23,12.08 L519.62,12.27 L521.01,12.47 L522.40,12.68 L523.79,12.89 L525.17,13.12 L526.56,13.35 L527.94,13.59 L529.33,13.84 L530.71,14.10 L532.09,14.37 L533.47,14.64 L534.84,14.92 L536.22,15.20 L537.60,15.49 L538.97,15.79 L540.34,16.09 L541.72,16.39 L543.09,16.71 L544.45,17.03 L545.82,17.35 L547.19,17.69 L548.55,18.03 L549.91,18.38 L551.27,18.74 L552.62,19.11 L553.98,19.48 L555.33,19.86 L556.68,20.25 L558.03,20.64 L559.38,21.04 L560.73,21.44 L562.08,21.84 L563.42,22.24 L564.77,22.65 L566.11,23.06 L567.46,23.47 L568.80,23.88 L570.15,24.29 L571.49,24.71 L572.83,25.13 L574.17,25.55 L575.51,25.97 L576.85,26.41 L578.19,26.84 L579.52,27.28 L580.85,27.73 L582.18,28.19 L583.51,28.65 L584.84,29.11 L586.16,29.59 L587.48,30.06 L588.80,30.54 L590.12,31.03 L591.44,31.52 L592.76,32.02 L594.07,32.52 L595.38,33.02 L596.69,33.54 L598.00,34.05 L599.31,34.58 L600.61,35.11 L601.91,35.64 L603.21,36.19 L604.50,36.74 L605.79,37.30 L607.08,37.87 L608.36,38.45 L609.63,39.04 L610.91,39.64 L612.17,40.25 L613.43,40.87 L614.69,41.50 L615.94,42.15 L617.18,42.81 L618.41,43.49 L619.63,44.18 L620.85,44.88 L622.05,45.60 L623.24,46.34 L624.43,47.10 L625.60,47.87 L626.77,48.66 L627.92,49.46 L629.06,50.28 L630.19,51.12 L631.31,51.97 L632.41,52.84 L633.50,53.73 L634.58,54.63 L635.65,55.55 L636.71,56.48 L637.75,57.42 L638.78,58.39 L639.79,59.36 L640.78,60.36 L641.75,61.37 L642.71,62.40 L643.64,63.45 L644.55,64.51 L645.44,65.60 L646.31,66.70 L647.14,67.82 L647.95,68.96 L648.74,70.12 L649.49,71.29 L650.21,72.49 L650.90,73.70 L651.57,74.93 L652.20,76.18 L652.80,77.44 L653.38,78.72 L653.92,80.01 L654.43,81.31 L654.92,82.63 L655.37,83.95 L655.80,85.29 L656.20,86.63 L656.57,87.99 L656.91,89.35 L657.22,90.71 L657.51,92.09 L657.78,93.47 L658.01,94.85 L658.23,96.24 L658.42,97.63 L658.58,99.02 L658.73,100.42 L658.85,101.82 L658.96,103.22 L659.05,104.63 L659.12,106.03 L659.18,107.44 L659.23,108.85 L659.27,110.25 L659.29,111.66 L659.31,113.07 L659.33,114.48 L659.34,115.89 L659.35,117.30 L659.35,118.00 L659.60,200.00 L659.78,201.44 L659.98,202.88 L660.20,204.30 L660.45,205.70 L660.76,207.07 L661.12,208.41 L661.55,209.71 L662.05,210.96 L662.64,212.15 L663.30,213.29 L664.05,214.37 L664.88,215.38 L665.80,216.32 L666.79,217.20 L667.86,218.01 L668.99,218.77 L670.17,219.47 L671.41,220.12 L672.69,220.74 L674.01,221.31 L675.36,221.86 L676.72,222.39 L678.11,222.90 L679.50,223.40 L680.90,223.90" stroke="#000000"/>
<path d="M622.30,17.90 L623.56,18.56 L624.81,19.22 L626.06,19.89 L627.31,20.56 L628.56,21.23 L629.80,21.92 L631.03,22.61 L632.26,23.31 L633.48,24.03 L634.70,24.76 L635.90,25.50 L637.10,26.26 L638.29,27.03 L639.47,27.82 L640.64,28.61 L641.80,29.43 L642.96,30.25 L644.11,31.08 L645.26,31.92 L646.39,32.78 L647.52,33.64 L648.65,34.52 L649.76,35.40 L650.86,36.30 L651.95,37.21 L653.03,38.14 L654.10,39.08 L655.14,40.03 L656.17,41.01 L657.18,42.00 L658.16,43.01 L659.12,44.05 L660.05,45.10 L660.94,46.19 L661.81,47.29 L662.64,48.42 L663.43,49.57 L664.19,50.75 L664.91,51.95 L665.59,53.18 L666.23,54.42 L666.84,55.69 L667.41,56.97 L667.95,58.27 L668.45,59.59 L668.92,60.92 L669.36,62.26 L669.78,63.61 L670.16,64.98 L670.52,66.35 L670.85,67.73 L671.16,69.11 L671.44,70.50 L671.71,71.90 L671.96,73.30 L672.18,74.70 L672.39,76.11 L672.59,77.52 L672.77,78.93 L672.93,80.34 L673.08,81.75 L673.22,83.16 L673.35,84.58 L673.46,85.99 L673.57,87.41 L673.66,88.83 L673.75,90.24 L673.83,91.66 L673.90,93.08 L673.97,94.49 L674.03,95.91 L674.09,97.33 L674.15,98.75 L674.20,100.16 L674.25,101.58 L674.30,103.00 L678.90,220.30 L680.90,224.30" stroke="#10b3a6"/>
<path d="M453.10,7.80 L454.51,7.80 L455.92,7.80 L457.33,7.80 L458.74,7.80 L460.14,7.80 L461.55,7.80 L462.96,7.80 L464.37,7.80 L465.78,7.81 L467.19,7.81 L468.60,7.82 L470.01,7.82 L471.42,7.83 L472.83,7.84 L474.23,7.85 L475.64,7.86 L477.05,7.87 L478.46,7.88 L479.87,7.89 L481.28,7.91 L482.69,7.92 L484.10,7.94 L485.51,7.96 L486.91,7.97 L488.32,7.99 L489.73,8.01 L491.14,8.03 L492.55,8.05 L493.96,8.07 L495.37,8.09 L496.78,8.11 L498.18,8.13 L499.59,8.15 L501.00,8.16 L502.41,8.18 L503.82,8.20 L505.23,8.22 L506.64,8.24 L508.05,8.25 L509.45,8.27 L510.86,8.28 L512.27,8.30 L513.68,8.31 L515.09,8.32 L516.50,8.33 L517.91,8.34 L519.32,8.35 L520.73,8.36 L522.14,8.36 L523.54,8.37 L524.95,8.38 L526.36,8.38 L527.77,8.39 L529.18,8.39 L530.59,8.40 L532.00,8.41 L533.41,8.41 L534.82,8.42 L536.22,8.42 L537.63,8.43 L539.04,8.44 L540.45,8.45 L541.86,8.46 L543.27,8.47 L544.68,8.48 L546.09,8.50 L547.50,8.51 L548.90,8.53 L550.31,8.55 L551.72,8.57 L553.13,8.59 L554.54,8.61 L555.95,8.64 L557.36,8.67 L558.77,8.69 L560.17,8.72 L561.58,8.75 L562.99,8.78 L564.40,8.81 L565.81,8.84 L567.22,8.88 L568.63,8.91 L570.03,8.94 L571.44,8.98 L572.85,9.01 L574.26,9.05 L575.67,9.09 L577.08,9.13 L578.49,9.18 L579.90,9.22 L581.30,9.27 L582.71,9.33 L584.12,9.38 L585.53,9.44 L586.94,9.51 L588.35,9.58 L589.75,9.66 L591.16,9.74 L592.57,9.83 L593.97,9.93 L595.38,10.03 L596.78,10.15 L598.18,10.28 L599.59,10.43 L600.99,10.59 L602.38,10.77 L603.78,10.96 L605.17,11.17 L606.56,11.40 L607.95,11.64 L609.33,11.90 L610.71,12.18 L612.08,12.48 L613.45,12.81 L614.82,13.15 L616.18,13.51 L617.53,13.89 L618.87,14.29 L620.21,14.72 L621.54,15.18 L622.86,15.66 L624.17,16.16 L625.47,16.69 L626.76,17.24 L628.04,17.82 L629.31,18.42 L630.57,19.05 L631.81,19.69 L633.05,20.36 L634.28,21.04 L635.49,21.75 L636.70,22.48 L637.89,23.23 L639.07,23.99 L640.24,24.77 L641.40,25.57 L642.54,26.39 L643.68,27.22 L644.80,28.06 L645.92,28.93 L647.02,29.80 L648.11,30.69 L649.18,31.60 L650.25,32.52 L651.30,33.45 L652.35,34.39 L653.39,35.35 L654.42,36.31 L655.44,37.27 L656.46,38.25 L657.48,39.22 L658.50,40.20" stroke="#7a0606"/>
</g>
<rect x="414.30" y="2.30" width="272.50" height="270.60" fill="none" stroke="#a8a8a8" stroke-width="1"/>
<path d="M419.50,272.90v1.6M414.30,267.50h-1.6M471.88,272.90v1.6M414.30,215.52h-1.6M524.26,272.90v1.6M414.30,163.54h-1.6M576.64,272.90v1.6M414.30,111.56h-1.6M629.02,272.90v1.6M414.30,59.58h-1.6M681.40,272.90v1.6M414.30,7.60h-1.6" stroke="#555" stroke-width="0.8" fill="none"/>
<g font-family="'Liberation Sans', sans-serif" font-size="11.9" fill="#111" stroke="#111" stroke-width="0.35">
<text x="419.50" y="285.10" text-anchor="middle" textLength="17.2" lengthAdjust="spacingAndGlyphs">0.0</text>
<text x="393.40" y="271.60" textLength="17.4" lengthAdjust="spacingAndGlyphs">0.0</text>
<text x="471.88" y="285.10" text-anchor="middle" textLength="17.2" lengthAdjust="spacingAndGlyphs">0.2</text>
<text x="393.40" y="219.62" textLength="17.4" lengthAdjust="spacingAndGlyphs">0.2</text>
<text x="524.26" y="285.10" text-anchor="middle" textLength="17.2" lengthAdjust="spacingAndGlyphs">0.4</text>
<text x="393.40" y="167.64" textLength="17.4" lengthAdjust="spacingAndGlyphs">0.4</text>
<text x="576.64" y="285.10" text-anchor="middle" textLength="17.2" lengthAdjust="spacingAndGlyphs">0.6</text>
<text x="393.40" y="115.66" textLength="17.4" lengthAdjust="spacingAndGlyphs">0.6</text>
<text x="629.02" y="285.10" text-anchor="middle" textLength="17.2" lengthAdjust="spacingAndGlyphs">0.8</text>
<text x="393.40" y="63.68" textLength="17.4" lengthAdjust="spacingAndGlyphs">0.8</text>
<text x="681.40" y="285.10" text-anchor="middle" textLength="17.2" lengthAdjust="spacingAndGlyphs">1.0</text>
<text x="393.40" y="11.70" textLength="17.4" lengthAdjust="spacingAndGlyphs">1.0</text>
</g>
<text x="550.55" y="301.40" text-anchor="middle" font-family="'Liberation Serif', serif" font-size="17.2" fill="#111" stroke="#111" stroke-width="0.3">Recall</text>
<text transform="translate(387.70,137.60) rotate(-90)" x="0" y="0" text-anchor="middle" font-family="'Liberation Serif', serif" font-size="17.2" fill="#111" stroke="#111" stroke-width="0.3">Precision</text>
<rect x="421.40" y="116.70" width="99.30" height="148.60" rx="2" ry="2" fill="#fff" fill-opacity="0.85" stroke="#d9d9d9" stroke-width="0.9"/>
<path d="M439.70,124.20 L441.90,126.40 L444.10,124.20 L446.30,126.40 L444.10,128.60 L446.30,130.80 L444.10,133.00 L441.90,130.80 L439.70,133.00 L437.50,130.80 L439.70,128.60 L437.50,126.40 Z" fill="#2d1a8e"/>
<text x="468.70" y="132.20" font-family="'Liberation Serif', serif" font-weight="bold" font-size="14.45" fill="#000" stroke="#000" stroke-width="0.2">otsu3d</text>
<path d="M426.40,147.75H456.90" stroke="#70cbec" stroke-width="1.65"/>
<text x="468.70" y="152.95" font-family="'Liberation Serif', serif" font-weight="bold" font-size="14.45" fill="#000" stroke="#000" stroke-width="0.2">frangi</text>
<path d="M426.40,168.50H456.90" stroke="#ffc800" stroke-width="1.65"/>
<text x="468.70" y="173.70" font-family="'Liberation Serif', serif" font-weight="bold" font-size="14.45" fill="#000" stroke="#000" stroke-width="0.2">ofrangi</text>
<path d="M426.40,189.25H456.90" stroke="#808080" stroke-width="1.65"/>
<text x="468.70" y="194.45" font-family="'Liberation Serif', serif" font-weight="bold" font-size="14.45" fill="#000" stroke="#000" stroke-width="0.2">bfrangi</text>
<path d="M426.40,210.00H456.90" stroke="#000000" stroke-width="1.65"/>
<text x="468.70" y="215.20" font-family="'Liberation Serif', serif" font-weight="bold" font-size="14.45" fill="#000" stroke="#000" stroke-width="0.2">oof</text>
<path d="M426.40,230.75H456.90" stroke="#10b3a6" stroke-width="1.65"/>
<text x="468.70" y="235.95" font-family="'Liberation Serif', serif" font-weight="bold" font-size="14.45" fill="#000" stroke="#000" stroke-width="0.2">unet</text>
<path d="M426.40,251.50H456.90" stroke="#7a0606" stroke-width="1.65"/>
<text x="468.70" y="256.70" font-family="'Liberation Serif', serif" font-weight="bold" font-size="14.45" fill="#000" stroke="#000" stroke-width="0.2">nnunet</text>
<path d="M795.00,0.20V270.60M789.60,265.30H1062.00M847.34,0.20V270.60M789.60,213.32H1062.00M899.68,0.20V270.60M789.60,161.34H1062.00M952.02,0.20V270.60M789.60,109.36H1062.00M1004.36,0.20V270.60M789.60,57.38H1062.00M1056.70,0.20V270.60M789.60,5.40H1062.00" stroke="#eeeeee" stroke-width="0.8" fill="none"/>
<path d="M911.60,0.70 L913.80,2.90 L916.00,0.70 L918.20,2.90 L916.00,5.10 L918.20,7.30 L916.00,9.50 L913.80,7.30 L911.60,9.50 L909.40,7.30 L911.60,5.10 L909.40,2.90 Z" fill="#2d1a8e"/>
<g fill="none" stroke-width="1.65" stroke-linejoin="round" stroke-linecap="butt">
<path d="M794.30,5.50 L795.70,5.53 L797.10,5.56 L798.51,5.58 L799.91,5.61 L801.31,5.64 L802.71,5.67 L804.12,5.69 L805.52,5.72 L806.92,5.75 L808.32,5.78 L809.73,5.81 L811.13,5.83 L812.53,5.86 L813.93,5.89 L815.34,5.91 L816.74,5.94 L818.14,5.97 L819.54,6.00 L820.94,6.02 L822.35,6.05 L823.75,6.07 L825.15,6.10 L826.55,6.13 L827.96,6.15 L829.36,6.18 L830.76,6.20 L832.16,6.23 L833.57,6.26 L834.97,6.28 L836.37,6.31 L837.77,6.34 L839.18,6.37 L840.58,6.40 L841.98,6.44 L843.38,6.47 L844.78,6.51 L846.18,6.56 L847.59,6.61 L848.99,6.66 L850.39,6.72 L851.79,6.78 L853.19,6.84 L854.59,6.91 L855.99,6.99 L857.39,7.06 L858.79,7.14 L860.19,7.23 L861.59,7.31 L862.99,7.40 L864.39,7.49 L865.79,7.58 L867.19,7.67 L868.59,7.77 L869.99,7.87 L871.39,7.97 L872.79,8.07 L874.19,8.17 L875.59,8.28 L876.98,8.39 L878.38,8.50 L879.78,8.62 L881.18,8.73 L882.58,8.85 L883.97,8.97 L885.37,9.10 L886.77,9.23 L888.16,9.36 L889.56,9.49 L890.95,9.63 L892.35,9.78 L893.74,9.93 L895.14,10.09 L896.53,10.25 L897.92,10.43 L899.31,10.61 L900.70,10.80 L902.08,11.00 L903.47,11.21 L904.85,11.43 L906.24,11.66 L907.62,11.90 L909.00,12.14 L910.38,12.39 L911.76,12.64 L913.14,12.90 L914.51,13.16 L915.89,13.43 L917.27,13.70 L918.64,13.98 L920.01,14.26 L921.39,14.55 L922.76,14.84 L924.13,15.14 L925.50,15.44 L926.86,15.76 L928.23,16.07 L929.59,16.40 L930.96,16.72 L932.32,17.06 L933.68,17.39 L935.04,17.73 L936.40,18.07 L937.76,18.42 L939.12,18.76 L940.48,19.11 L941.84,19.46 L943.20,19.81 L944.56,20.17 L945.91,20.52 L947.27,20.88 L948.63,21.24 L949.98,21.61 L951.34,21.97 L952.69,22.34 L954.04,22.72 L955.39,23.10 L956.74,23.48 L958.09,23.87 L959.43,24.26 L960.78,24.67 L962.11,25.08 L963.45,25.50 L964.78,25.93 L966.11,26.37 L967.44,26.82 L968.75,27.29 L970.07,27.78 L971.38,28.27 L972.68,28.79 L973.98,29.31 L975.27,29.85 L976.56,30.40 L977.85,30.96 L979.13,31.52 L980.41,32.10 L981.69,32.69 L982.96,33.28 L984.24,33.88 L985.50,34.49 L986.77,35.10 L988.03,35.73 L989.28,36.36 L990.53,37.01 L991.77,37.66 L993.00,38.33 L994.22,39.02 L995.43,39.73 L996.63,40.45 L997.81,41.20 L998.97,41.96 L1000.12,42.75 L1001.25,43.56 L1002.36,44.40 L1003.45,45.26 L1004.52,46.15 L1005.57,47.06 L1006.59,48.00 L1007.59,48.96 L1008.56,49.95 L1009.51,50.97 L1010.44,52.00 L1011.35,53.06 L1012.24,54.13 L1013.12,55.22 L1013.98,56.33 L1014.83,57.44 L1015.67,58.56 L1016.50,59.70 L1017.31,60.84 L1018.11,61.99 L1018.89,63.16 L1019.66,64.33 L1020.41,65.51 L1021.14,66.71 L1021.85,67.91 L1022.54,69.13 L1023.21,70.36 L1023.85,71.60 L1024.47,72.85 L1025.07,74.12 L1025.65,75.39 L1026.21,76.67 L1026.74,77.97 L1027.25,79.27 L1027.74,80.58 L1028.21,81.90 L1028.66,83.22 L1029.08,84.56 L1029.49,85.90 L1029.87,87.25 L1030.24,88.60 L1030.58,89.96 L1030.91,91.32 L1031.22,92.68 L1031.51,94.06 L1031.78,95.43 L1032.04,96.81 L1032.29,98.19 L1032.52,99.57 L1032.73,100.96 L1032.94,102.35 L1033.13,103.74 L1033.32,105.13 L1033.49,106.52 L1033.65,107.91 L1033.81,109.31 L1033.96,110.70 L1034.10,112.10 L1034.24,113.50 L1034.38,114.89 L1034.51,116.29 L1034.64,117.69 L1034.76,119.09 L1034.89,120.48 L1035.02,121.88 L1035.14,123.28 L1035.27,124.68 L1035.40,126.07 L1035.52,127.47 L1035.65,128.87 L1035.78,130.26 L1035.91,131.66 L1036.04,133.06 L1036.16,134.45 L1036.29,135.85 L1036.42,137.25 L1036.55,138.64 L1036.67,140.04 L1036.80,141.44 L1036.92,142.84 L1037.04,144.23 L1037.16,145.63 L1037.27,147.03 L1037.38,148.43 L1037.49,149.82 L1037.59,151.22 L1037.69,152.62 L1037.78,154.02 L1037.87,155.42 L1037.96,156.82 L1038.05,158.22 L1038.13,159.62 L1038.21,161.02 L1038.29,162.42 L1038.37,163.82 L1038.44,165.22 L1038.52,166.62 L1038.59,168.02 L1038.67,169.42 L1038.74,170.82 L1038.82,172.22 L1038.89,173.62 L1038.97,175.03 L1039.04,176.43 L1039.12,177.83 L1039.20,179.23 L1039.27,180.63 L1039.35,182.03 L1039.43,183.43 L1039.50,184.83 L1039.58,186.23 L1039.65,187.63 L1039.72,189.03 L1039.79,190.43 L1039.86,191.83 L1039.93,193.23 L1039.99,194.63 L1040.05,196.04 L1040.11,197.44 L1040.16,198.84 L1040.21,200.24 L1040.26,201.64 L1040.30,203.04 L1040.34,204.45 L1040.37,205.85 L1040.40,207.25 L1040.43,208.65 L1040.45,210.05 L1040.48,211.46 L1040.50,212.86 L1040.52,214.26 L1040.54,215.66 L1040.56,217.07 L1040.57,218.47 L1040.59,219.87 L1040.61,221.27 L1040.63,222.68 L1040.65,224.08 L1040.66,225.48 L1040.68,226.88 L1040.70,228.29 L1040.72,229.69 L1040.74,231.09 L1040.75,232.49 L1040.77,233.90 L1040.79,235.30 L1040.80,236.00" stroke="#70cbec"/>
<path d="M794.30,5.50 L795.70,5.54 L797.10,5.57 L798.51,5.61 L799.91,5.64 L801.31,5.68 L802.71,5.71 L804.12,5.75 L805.52,5.78 L806.92,5.82 L808.32,5.85 L809.72,5.89 L811.13,5.92 L812.53,5.96 L813.93,5.99 L815.33,6.03 L816.74,6.06 L818.14,6.10 L819.54,6.13 L820.94,6.17 L822.34,6.20 L823.75,6.23 L825.15,6.27 L826.55,6.30 L827.95,6.33 L829.36,6.37 L830.76,6.40 L832.16,6.43 L833.56,6.47 L834.97,6.50 L836.37,6.54 L837.77,6.57 L839.17,6.61 L840.57,6.65 L841.98,6.69 L843.38,6.74 L844.78,6.79 L846.18,6.84 L847.58,6.89 L848.98,6.95 L850.38,7.01 L851.79,7.08 L853.19,7.15 L854.59,7.23 L855.99,7.31 L857.39,7.39 L858.79,7.48 L860.19,7.56 L861.59,7.66 L862.99,7.75 L864.38,7.85 L865.78,7.94 L867.18,8.04 L868.58,8.15 L869.98,8.25 L871.38,8.36 L872.78,8.47 L874.18,8.58 L875.57,8.69 L876.97,8.81 L878.37,8.93 L879.77,9.05 L881.16,9.18 L882.56,9.31 L883.96,9.44 L885.35,9.58 L886.75,9.72 L888.15,9.86 L889.54,10.00 L890.93,10.15 L892.33,10.31 L893.72,10.47 L895.11,10.64 L896.50,10.82 L897.89,11.01 L899.28,11.20 L900.66,11.41 L902.05,11.63 L903.43,11.85 L904.81,12.09 L906.20,12.33 L907.57,12.58 L908.95,12.83 L910.33,13.10 L911.71,13.36 L913.08,13.64 L914.46,13.92 L915.83,14.20 L917.20,14.49 L918.57,14.78 L919.94,15.08 L921.31,15.39 L922.68,15.70 L924.05,16.02 L925.41,16.34 L926.77,16.68 L928.13,17.01 L929.49,17.36 L930.85,17.71 L932.21,18.06 L933.56,18.42 L934.92,18.78 L936.27,19.15 L937.63,19.52 L938.98,19.89 L940.33,20.27 L941.68,20.65 L943.03,21.03 L944.38,21.42 L945.73,21.81 L947.07,22.20 L948.42,22.60 L949.76,23.00 L951.10,23.41 L952.44,23.82 L953.78,24.24 L955.12,24.67 L956.45,25.10 L957.78,25.54 L959.11,25.99 L960.44,26.44 L961.76,26.90 L963.09,27.37 L964.40,27.84 L965.72,28.33 L967.02,28.83 L968.33,29.34 L969.63,29.86 L970.92,30.39 L972.21,30.94 L973.50,31.49 L974.78,32.06 L976.06,32.63 L977.34,33.21 L978.61,33.80 L979.88,34.39 L981.15,34.99 L982.42,35.59 L983.69,36.19 L984.95,36.79 L986.22,37.40 L987.48,38.01 L988.74,38.63 L990.01,39.24 L991.26,39.87 L992.52,40.49 L993.77,41.13 L995.01,41.77 L996.26,42.43 L997.49,43.10 L998.72,43.77 L999.94,44.47 L1001.15,45.17 L1002.35,45.89 L1003.54,46.63 L1004.73,47.38 L1005.90,48.14 L1007.06,48.93 L1008.21,49.73 L1009.34,50.55 L1010.47,51.39 L1011.58,52.24 L1012.68,53.12 L1013.76,54.01 L1014.83,54.91 L1015.89,55.84 L1016.93,56.78 L1017.96,57.73 L1018.96,58.71 L1019.95,59.71 L1020.91,60.72 L1021.85,61.76 L1022.77,62.81 L1023.66,63.89 L1024.53,64.98 L1025.36,66.10 L1026.17,67.24 L1026.96,68.39 L1027.71,69.57 L1028.43,70.76 L1029.12,71.97 L1029.79,73.19 L1030.41,74.43 L1031.01,75.69 L1031.57,76.96 L1032.10,78.25 L1032.60,79.55 L1033.06,80.87 L1033.50,82.19 L1033.90,83.53 L1034.28,84.88 L1034.62,86.23 L1034.95,87.59 L1035.25,88.96 L1035.53,90.33 L1035.79,91.71 L1036.03,93.10 L1036.26,94.48 L1036.47,95.87 L1036.68,97.26 L1036.87,98.65 L1037.06,100.05 L1037.24,101.44 L1037.41,102.83 L1037.57,104.23 L1037.73,105.63 L1037.88,107.02 L1038.02,108.42 L1038.16,109.82 L1038.28,111.21 L1038.41,112.61 L1038.52,114.01 L1038.63,115.41 L1038.73,116.81 L1038.82,118.21 L1038.91,119.61 L1039.00,121.01 L1039.08,122.41 L1039.16,123.81 L1039.23,125.21 L1039.30,126.61 L1039.36,128.01 L1039.42,129.41 L1039.48,130.81 L1039.53,132.21 L1039.58,133.62 L1039.63,135.02 L1039.67,136.42 L1039.71,137.82 L1039.75,139.22 L1039.79,140.63 L1039.82,142.03 L1039.85,143.43 L1039.88,144.83 L1039.91,146.23 L1039.94,147.64 L1039.97,149.04 L1039.99,150.44 L1040.02,151.84 L1040.04,153.25 L1040.06,154.65 L1040.08,156.05 L1040.10,157.45 L1040.12,158.86 L1040.14,160.26 L1040.16,161.66 L1040.18,163.06 L1040.20,164.47 L1040.21,165.87 L1040.23,167.27 L1040.25,168.68 L1040.27,170.08 L1040.28,171.48 L1040.30,172.88 L1040.32,174.29 L1040.34,175.69 L1040.36,177.09 L1040.38,178.49 L1040.39,179.90 L1040.41,181.30 L1040.43,182.70 L1040.45,184.10 L1040.46,185.51 L1040.48,186.91 L1040.50,188.31 L1040.52,189.71 L1040.53,191.12 L1040.55,192.52 L1040.56,193.92 L1040.58,195.32 L1040.59,196.73 L1040.61,198.13 L1040.62,199.53 L1040.63,200.93 L1040.65,202.34 L1040.66,203.74 L1040.67,205.14 L1040.68,206.54 L1040.69,207.95 L1040.70,209.35 L1040.71,210.75 L1040.72,212.16 L1040.73,213.56 L1040.74,214.96 L1040.75,216.36 L1040.77,217.77 L1040.78,219.17 L1040.79,220.57 L1040.80,221.97 L1040.81,223.38 L1040.82,224.78 L1040.83,226.18 L1040.84,227.58 L1040.85,228.99 L1040.86,230.39 L1040.87,231.79 L1040.88,233.19 L1040.89,234.60 L1040.90,236.00" stroke="#ffc800"/>
<path d="M864.70,12.50 L866.08,12.75 L867.47,12.99 L868.85,13.25 L870.23,13.50 L871.61,13.76 L872.99,14.03 L874.36,14.31 L875.74,14.60 L877.11,14.89 L878.48,15.19 L879.85,15.51 L881.22,15.83 L882.58,16.15 L883.95,16.49 L885.31,16.83 L886.67,17.17 L888.03,17.52 L889.39,17.88 L890.75,18.23 L892.11,18.60 L893.46,18.96 L894.82,19.33 L896.18,19.71 L897.53,20.08 L898.88,20.47 L900.23,20.85 L901.58,21.24 L902.93,21.64 L904.28,22.04 L905.62,22.44 L906.97,22.85 L908.31,23.26 L909.66,23.68 L911.00,24.10 L912.34,24.52 L913.68,24.95 L915.01,25.38 L916.35,25.81 L917.68,26.26 L919.01,26.71 L920.34,27.16 L921.66,27.63 L922.98,28.10 L924.30,28.59 L925.61,29.09 L926.92,29.59 L928.23,30.11 L929.53,30.63 L930.83,31.17 L932.12,31.71 L933.42,32.26 L934.71,32.81 L936.00,33.37 L937.28,33.94 L938.57,34.51 L939.85,35.08 L941.13,35.66 L942.41,36.24 L943.69,36.82 L944.96,37.41 L946.24,38.00 L947.51,38.60 L948.78,39.20 L950.05,39.80 L951.32,40.40 L952.59,41.01 L953.86,41.62 L955.12,42.24 L956.38,42.85 L957.65,43.47 L958.91,44.10 L960.16,44.72 L961.42,45.36 L962.67,45.99 L963.92,46.63 L965.17,47.28 L966.41,47.93 L967.65,48.60 L968.89,49.26 L970.12,49.94 L971.34,50.63 L972.56,51.32 L973.78,52.02 L974.99,52.74 L976.19,53.46 L977.39,54.19 L978.59,54.92 L979.78,55.67 L980.96,56.43 L982.13,57.19 L983.30,57.97 L984.47,58.75 L985.63,59.55 L986.78,60.35 L987.93,61.16 L989.08,61.97 L990.22,62.79 L991.36,63.61 L992.49,64.44 L993.62,65.27 L994.76,66.11 L995.89,66.95 L997.01,67.79 L998.14,68.63 L999.26,69.48 L1000.37,70.34 L1001.49,71.20 L1002.59,72.06 L1003.69,72.94 L1004.78,73.83 L1005.86,74.73 L1006.93,75.64 L1007.99,76.56 L1009.04,77.49 L1010.08,78.44 L1011.10,79.41 L1012.11,80.38 L1013.11,81.37 L1014.10,82.38 L1015.07,83.40 L1016.02,84.43 L1016.96,85.47 L1017.89,86.53 L1018.80,87.60 L1019.68,88.69 L1020.55,89.79 L1021.40,90.91 L1022.22,92.04 L1023.02,93.19 L1023.79,94.35 L1024.53,95.54 L1025.24,96.73 L1025.92,97.95 L1026.57,99.18 L1027.18,100.42 L1027.76,101.69 L1028.31,102.97 L1028.82,104.26 L1029.30,105.57 L1029.76,106.89 L1030.18,108.22 L1030.59,109.56 L1030.97,110.91 L1031.33,112.26 L1031.68,113.63 L1032.01,114.99 L1032.33,116.36 L1032.64,117.74 L1032.94,119.11 L1033.23,120.49 L1033.51,121.87 L1033.79,123.25 L1034.06,124.64 L1034.33,126.02 L1034.59,127.40 L1034.85,128.79 L1035.10,130.17 L1035.34,131.56 L1035.58,132.94 L1035.81,134.33 L1036.03,135.72 L1036.25,137.10 L1036.45,138.49 L1036.64,139.89 L1036.82,141.28 L1036.99,142.67 L1037.15,144.07 L1037.30,145.46 L1037.44,146.86 L1037.57,148.26 L1037.68,149.66 L1037.79,151.06 L1037.90,152.46 L1037.99,153.86 L1038.08,155.26 L1038.16,156.66 L1038.24,158.07 L1038.31,159.47 L1038.39,160.87 L1038.46,162.28 L1038.52,163.68 L1038.59,165.08 L1038.66,166.49 L1038.73,167.89 L1038.79,169.30 L1038.86,170.70 L1038.93,172.10 L1038.99,173.51 L1039.06,174.91 L1039.13,176.31 L1039.20,177.72 L1039.27,179.12 L1039.34,180.52 L1039.42,181.93 L1039.49,183.33 L1039.56,184.74 L1039.64,186.14 L1039.71,187.54 L1039.78,188.95 L1039.86,190.35 L1039.93,191.75 L1040.00,193.16 L1040.07,194.56 L1040.14,195.96 L1040.20,197.37 L1040.27,198.77 L1040.32,200.17 L1040.38,201.58 L1040.43,202.98 L1040.48,204.38 L1040.52,205.79 L1040.56,207.19 L1040.60,208.60 L1040.63,210.00 L1040.65,211.41 L1040.68,212.81 L1040.70,214.22 L1040.72,215.62 L1040.73,217.03 L1040.75,218.43 L1040.76,219.84 L1040.77,221.24 L1040.79,222.65 L1040.80,224.05 L1040.81,225.46 L1040.82,226.86 L1040.83,228.27 L1040.84,229.67 L1040.86,231.08 L1040.87,232.48 L1040.88,233.89 L1040.89,235.29 L1040.90,236.70" stroke="#808080"/>
<path d="M794.30,5.50 L795.71,5.51 L797.12,5.53 L798.53,5.54 L799.94,5.55 L801.35,5.56 L802.76,5.58 L804.17,5.59 L805.58,5.60 L806.99,5.61 L808.40,5.63 L809.81,5.64 L811.22,5.65 L812.63,5.66 L814.04,5.68 L815.45,5.69 L816.86,5.70 L818.27,5.71 L819.68,5.73 L821.09,5.74 L822.50,5.75 L823.91,5.76 L825.31,5.78 L826.72,5.79 L828.13,5.80 L829.54,5.81 L830.95,5.82 L832.36,5.84 L833.77,5.85 L835.18,5.86 L836.59,5.87 L838.00,5.89 L839.41,5.90 L840.82,5.92 L842.23,5.93 L843.64,5.95 L845.05,5.96 L846.46,5.98 L847.87,6.00 L849.28,6.02 L850.69,6.04 L852.10,6.06 L853.51,6.08 L854.92,6.11 L856.33,6.13 L857.74,6.16 L859.15,6.18 L860.56,6.21 L861.97,6.23 L863.38,6.26 L864.79,6.29 L866.20,6.32 L867.61,6.34 L869.01,6.37 L870.42,6.40 L871.83,6.43 L873.24,6.45 L874.65,6.48 L876.06,6.50 L877.47,6.53 L878.88,6.56 L880.29,6.58 L881.70,6.61 L883.11,6.63 L884.52,6.66 L885.93,6.69 L887.34,6.72 L888.75,6.75 L890.16,6.78 L891.57,6.82 L892.98,6.86 L894.39,6.91 L895.79,6.95 L897.20,7.01 L898.61,7.07 L900.02,7.13 L901.43,7.20 L902.83,7.28 L904.24,7.36 L905.65,7.45 L907.05,7.55 L908.46,7.65 L909.86,7.75 L911.27,7.85 L912.68,7.96 L914.08,8.08 L915.49,8.19 L916.89,8.32 L918.29,8.44 L919.70,8.57 L921.10,8.70 L922.50,8.84 L923.91,8.98 L925.31,9.12 L926.71,9.27 L928.11,9.43 L929.51,9.59 L930.91,9.75 L932.31,9.92 L933.71,10.09 L935.11,10.26 L936.51,10.44 L937.91,10.62 L939.31,10.81 L940.71,11.00 L942.10,11.19 L943.50,11.39 L944.90,11.60 L946.29,11.80 L947.69,12.02 L949.08,12.24 L950.47,12.47 L951.86,12.71 L953.25,12.96 L954.64,13.22 L956.02,13.49 L957.40,13.77 L958.78,14.06 L960.15,14.38 L961.52,14.70 L962.88,15.05 L964.24,15.41 L965.60,15.79 L966.95,16.19 L968.29,16.61 L969.62,17.05 L970.95,17.51 L972.27,17.99 L973.58,18.49 L974.89,19.01 L976.18,19.55 L977.47,20.11 L978.75,20.69 L980.03,21.29 L981.30,21.90 L982.56,22.52 L983.82,23.16 L985.07,23.81 L986.32,24.46 L987.56,25.13 L988.80,25.80 L990.04,26.48 L991.28,27.16 L991.90,27.50 L1005.70,36.70 L1012.60,44.10 L1017.50,51.00 L1020.80,58.60 L1024.30,65.80 L1026.90,75.80 L1027.90,87.30 L1028.70,100.00 L1030.20,115.00 L1031.00,150.00 L1031.60,180.00 L1032.20,253.80 L1056.80,254.60" stroke="#000000"/>
<path d="M968.60,5.30 L1041.40,17.20 L1042.29,18.31 L1043.16,19.43 L1044.03,20.56 L1044.88,21.70 L1045.70,22.85 L1046.50,24.02 L1047.26,25.21 L1047.99,26.42 L1048.68,27.64 L1049.34,28.89 L1049.96,30.16 L1050.55,31.44 L1051.10,32.75 L1051.61,34.07 L1052.09,35.40 L1052.53,36.75 L1052.94,38.11 L1053.33,39.48 L1053.68,40.86 L1054.00,42.24 L1054.29,43.64 L1054.55,45.04 L1054.79,46.45 L1055.01,47.86 L1055.20,49.28 L1055.38,50.70 L1055.53,52.12 L1055.66,53.55 L1055.78,54.98 L1055.88,56.40 L1055.97,57.83 L1056.04,59.26 L1056.11,60.69 L1056.16,62.12 L1056.21,63.55 L1056.24,64.98 L1056.28,66.42 L1056.30,67.85 L1056.33,69.28 L1056.34,70.71 L1056.36,72.14 L1056.37,73.57 L1056.38,75.00 L1056.39,76.43 L1056.39,77.86 L1056.40,79.29 L1056.40,80.00 L1056.80,254.00" stroke="#10b3a6"/>
<path d="M1003.70,5.20 C1008.08,5.25 1023.28,5.35 1030.00,5.50 C1036.72,5.65 1040.58,5.80 1044.00,6.10 C1047.42,6.40 1048.63,6.62 1050.50,7.30 C1052.37,7.98 1054.42,9.72 1055.20,10.20" stroke="#7a0606"/>
</g>
<rect x="789.60" y="0.20" width="272.40" height="270.40" fill="none" stroke="#a8a8a8" stroke-width="1"/>
<path d="M795.00,270.60v1.6M789.60,265.30h-1.6M847.34,270.60v1.6M789.60,213.32h-1.6M899.68,270.60v1.6M789.60,161.34h-1.6M952.02,270.60v1.6M789.60,109.36h-1.6M1004.36,270.60v1.6M789.60,57.38h-1.6M1056.70,270.60v1.6M789.60,5.40h-1.6" stroke="#555" stroke-width="0.8" fill="none"/>
<g font-family="'Liberation Sans', sans-serif" font-size="11.9" fill="#111" stroke="#111" stroke-width="0.35">
<text x="795.00" y="282.80" text-anchor="middle" textLength="17.2" lengthAdjust="spacingAndGlyphs">0.0</text>
<text x="768.70" y="269.40" textLength="17.4" lengthAdjust="spacingAndGlyphs">0.0</text>
<text x="847.34" y="282.80" text-anchor="middle" textLength="17.2" lengthAdjust="spacingAndGlyphs">0.2</text>
<text x="768.70" y="217.42" textLength="17.4" lengthAdjust="spacingAndGlyphs">0.2</text>
<text x="899.68" y="282.80" text-anchor="middle" textLength="17.2" lengthAdjust="spacingAndGlyphs">0.4</text>
<text x="768.70" y="165.44" textLength="17.4" lengthAdjust="spacingAndGlyphs">0.4</text>
<text x="952.02" y="282.80" text-anchor="middle" textLength="17.2" lengthAdjust="spacingAndGlyphs">0.6</text>
<text x="768.70" y="113.46" textLength="17.4" lengthAdjust="spacingAndGlyphs">0.6</text>
<text x="1004.36" y="282.80" text-anchor="middle" textLength="17.2" lengthAdjust="spacingAndGlyphs">0.8</text>
<text x="768.70" y="61.48" textLength="17.4" lengthAdjust="spacingAndGlyphs">0.8</text>
<text x="1056.70" y="282.80" text-anchor="middle" textLength="17.2" lengthAdjust="spacingAndGlyphs">1.0</text>
<text x="768.70" y="9.50" textLength="17.4" lengthAdjust="spacingAndGlyphs">1.0</text>
</g>
<text x="925.80" y="299.10" text-anchor="middle" font-family="'Liberation Serif', serif" font-size="17.2" fill="#111" stroke="#111" stroke-width="0.3">Recall</text>
<text transform="translate(763.00,135.40) rotate(-90)" x="0" y="0" text-anchor="middle" font-family="'Liberation Serif', serif" font-size="17.2" fill="#111" stroke="#111" stroke-width="0.3">Precision</text>
<rect x="796.70" y="114.20" width="99.20" height="148.80" rx="2" ry="2" fill="#fff" fill-opacity="0.85" stroke="#d9d9d9" stroke-width="0.9"/>
<path d="M815.00,121.70 L817.20,123.90 L819.40,121.70 L821.60,123.90 L819.40,126.10 L821.60,128.30 L819.40,130.50 L817.20,128.30 L815.00,130.50 L812.80,128.30 L815.00,126.10 L812.80,123.90 Z" fill="#2d1a8e"/>
<text x="844.00" y="129.70" font-family="'Liberation Serif', serif" font-weight="bold" font-size="14.45" fill="#000" stroke="#000" stroke-width="0.2">otsu3d</text>
<path d="M801.70,145.25H832.20" stroke="#70cbec" stroke-width="1.65"/>
<text x="844.00" y="150.45" font-family="'Liberation Serif', serif" font-weight="bold" font-size="14.45" fill="#000" stroke="#000" stroke-width="0.2">frangi</text>
<path d="M801.70,166.00H832.20" stroke="#ffc800" stroke-width="1.65"/>
<text x="844.00" y="171.20" font-family="'Liberation Serif', serif" font-weight="bold" font-size="14.45" fill="#000" stroke="#000" stroke-width="0.2">ofrangi</text>
<path d="M801.70,186.75H832.20" stroke="#808080" stroke-width="1.65"/>
<text x="844.00" y="191.95" font-family="'Liberation Serif', serif" font-weight="bold" font-size="14.45" fill="#000" stroke="#000" stroke-width="0.2">bfrangi</text>
<path d="M801.70,207.50H832.20" stroke="#000000" stroke-width="1.65"/>
<text x="844.00" y="212.70" font-family="'Liberation Serif', serif" font-weight="bold" font-size="14.45" fill="#000" stroke="#000" stroke-width="0.2">oof</text>
<path d="M801.70,228.25H832.20" stroke="#10b3a6" stroke-width="1.65"/>
<text x="844.00" y="233.45" font-family="'Liberation Serif', serif" font-weight="bold" font-size="14.45" fill="#000" stroke="#000" stroke-width="0.2">unet</text>
<path d="M801.70,249.00H832.20" stroke="#7a0606" stroke-width="1.65"/>
<text x="844.00" y="254.20" font-family="'Liberation Serif', serif" font-weight="bold" font-size="14.45" fill="#000" stroke="#000" stroke-width="0.2">nnunet</text>
<text transform="translate(154.30,345.20) scale(0.95,1)" x="0" y="0" text-anchor="middle" font-family="'Liberation Serif', serif" font-weight="bold" font-size="26.7" fill="#000" stroke="#000" stroke-width="0.25">KESM</text>
<text transform="translate(529.60,345.20) scale(0.95,1)" x="0" y="0" text-anchor="middle" font-family="'Liberation Serif', serif" font-weight="bold" font-size="26.7" fill="#000" stroke="#000" stroke-width="0.25">LSFM</text>
<text transform="translate(905.50,343.20) scale(0.95,1)" x="0" y="0" text-anchor="middle" font-family="'Liberation Serif', serif" font-weight="bold" font-size="26.7" fill="#000" stroke="#000" stroke-width="0.25">μ-CT</text>
</svg>
</body></html>
